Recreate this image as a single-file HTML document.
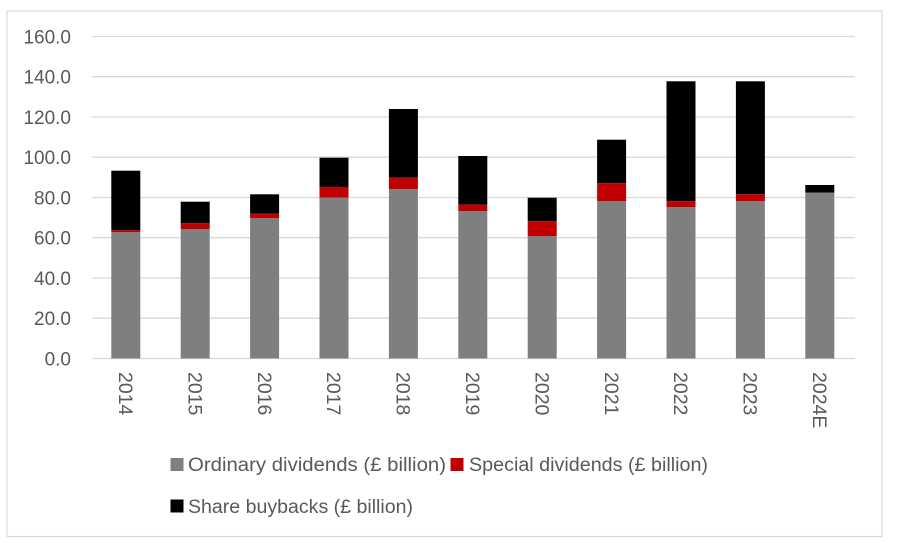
<!DOCTYPE html>
<html><head><meta charset="utf-8"><style>
html,body{margin:0;padding:0;background:#fff;}
svg{display:block;font-family:"Liberation Sans",Arial,sans-serif;}
</style></head><body>
<svg width="900" height="543" viewBox="0 0 900 543" xmlns="http://www.w3.org/2000/svg">
<rect x="0" y="0" width="900" height="543" fill="#fff"/>
<rect x="7" y="11" width="875" height="525.5" fill="#fff" stroke="#d9d9d9" stroke-width="1.2"/>
<g stroke="#d9d9d9" stroke-width="1.3">
<line x1="92" x2="855" y1="36.5" y2="36.5"/>
<line x1="92" x2="855" y1="76.7" y2="76.7"/>
<line x1="92" x2="855" y1="117" y2="117"/>
<line x1="92" x2="855" y1="157.2" y2="157.2"/>
<line x1="92" x2="855" y1="197.5" y2="197.5"/>
<line x1="92" x2="855" y1="237.7" y2="237.7"/>
<line x1="92" x2="855" y1="278" y2="278"/>
<line x1="92" x2="855" y1="318.2" y2="318.2"/>
<line x1="92" x2="855" y1="358.5" y2="358.5"/>
</g>
<g fill="#595959" font-size="19" text-anchor="end">
<text x="71" y="43.5">160.0</text>
<text x="71" y="83.7">140.0</text>
<text x="71" y="124">120.0</text>
<text x="71" y="164.2">100.0</text>
<text x="71" y="204.5">80.0</text>
<text x="71" y="244.7">60.0</text>
<text x="71" y="285">40.0</text>
<text x="71" y="325.2">20.0</text>
<text x="71" y="365.5">0.0</text>
</g>
<g>
<rect x="111.3" y="170.7" width="29" height="59.6" fill="#000"/>
<rect x="111.3" y="230.3" width="29" height="2" fill="#c00000"/>
<rect x="111.3" y="232.3" width="29" height="126.2" fill="#7f7f7f"/>
<rect x="180.7" y="201.7" width="29" height="21.6" fill="#000"/>
<rect x="180.7" y="223.3" width="29" height="5.7" fill="#c00000"/>
<rect x="180.7" y="229" width="29" height="129.5" fill="#7f7f7f"/>
<rect x="250.1" y="194.3" width="29" height="19.4" fill="#000"/>
<rect x="250.1" y="213.7" width="29" height="4.3" fill="#c00000"/>
<rect x="250.1" y="218" width="29" height="140.5" fill="#7f7f7f"/>
<rect x="319.5" y="157.7" width="29" height="29.3" fill="#000"/>
<rect x="319.5" y="187" width="29" height="10.7" fill="#c00000"/>
<rect x="319.5" y="197.7" width="29" height="160.8" fill="#7f7f7f"/>
<rect x="388.9" y="109" width="29" height="68.7" fill="#000"/>
<rect x="388.9" y="177.7" width="29" height="11.6" fill="#c00000"/>
<rect x="388.9" y="189.3" width="29" height="169.2" fill="#7f7f7f"/>
<rect x="458.3" y="156" width="29" height="48.7" fill="#000"/>
<rect x="458.3" y="204.7" width="29" height="6.3" fill="#c00000"/>
<rect x="458.3" y="211" width="29" height="147.5" fill="#7f7f7f"/>
<rect x="527.7" y="197.7" width="29" height="23.6" fill="#000"/>
<rect x="527.7" y="221.3" width="29" height="14.7" fill="#c00000"/>
<rect x="527.7" y="236" width="29" height="122.5" fill="#7f7f7f"/>
<rect x="597.1" y="139.7" width="29" height="43.6" fill="#000"/>
<rect x="597.1" y="183.3" width="29" height="18" fill="#c00000"/>
<rect x="597.1" y="201.3" width="29" height="157.2" fill="#7f7f7f"/>
<rect x="666.5" y="81.3" width="29" height="120" fill="#000"/>
<rect x="666.5" y="201.3" width="29" height="5.7" fill="#c00000"/>
<rect x="666.5" y="207" width="29" height="151.5" fill="#7f7f7f"/>
<rect x="735.9" y="81.3" width="29" height="113" fill="#000"/>
<rect x="735.9" y="194.3" width="29" height="7" fill="#c00000"/>
<rect x="735.9" y="201.3" width="29" height="157.2" fill="#7f7f7f"/>
<rect x="805.3" y="185" width="29" height="7.5" fill="#000"/>
<rect x="805.3" y="192.5" width="29" height="166" fill="#7f7f7f"/>
</g>
<g fill="#595959" font-size="19.5">
<text transform="translate(119,372) rotate(90)">2014</text>
<text transform="translate(188.4,372) rotate(90)">2015</text>
<text transform="translate(257.8,372) rotate(90)">2016</text>
<text transform="translate(327.2,372) rotate(90)">2017</text>
<text transform="translate(396.6,372) rotate(90)">2018</text>
<text transform="translate(466,372) rotate(90)">2019</text>
<text transform="translate(535.4,372) rotate(90)">2020</text>
<text transform="translate(604.8,372) rotate(90)">2021</text>
<text transform="translate(674.2,372) rotate(90)">2022</text>
<text transform="translate(743.6,372) rotate(90)">2023</text>
<text transform="translate(813,372) rotate(90)">2024E</text>
</g>
<rect x="170.5" y="458" width="13" height="13" fill="#7f7f7f"/>
<text x="188" y="471" fill="#595959" font-size="19" textLength="258" lengthAdjust="spacingAndGlyphs">Ordinary dividends (£ billion)</text>
<rect x="450.5" y="458" width="13" height="13" fill="#c00000"/>
<text x="469" y="471" fill="#595959" font-size="19" textLength="239" lengthAdjust="spacingAndGlyphs">Special dividends (£ billion)</text>
<rect x="170.5" y="499.5" width="13" height="13" fill="#000"/>
<text x="188" y="513" fill="#595959" font-size="19" textLength="225" lengthAdjust="spacingAndGlyphs">Share buybacks (£ billion)</text>
</svg>
</body></html>
